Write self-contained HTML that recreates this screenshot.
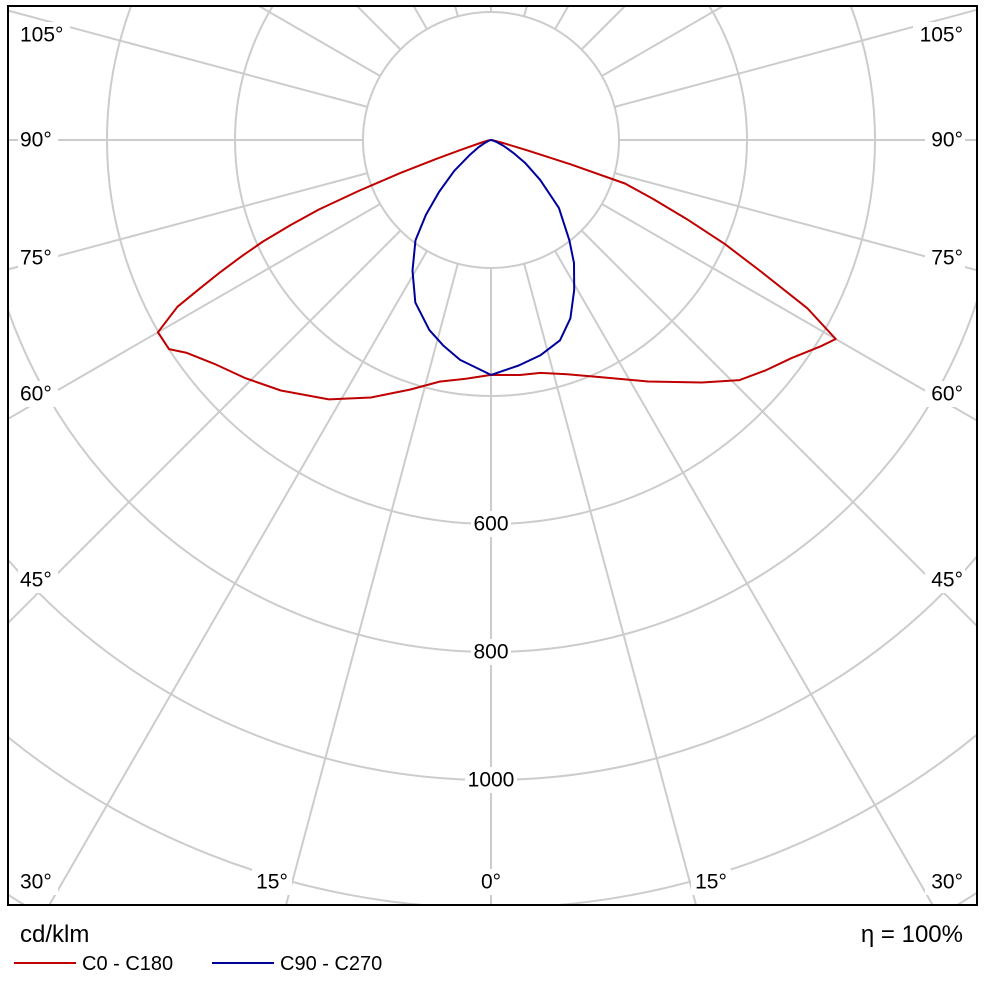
<!DOCTYPE html>
<html><head><meta charset="utf-8"><style>
html,body{margin:0;padding:0;background:#fff;width:984px;height:984px;overflow:hidden;}
body{font-family:"Liberation Sans",sans-serif;}
svg{display:block;}
</style></head><body>
<svg id="chart" width="984" height="984" viewBox="0 0 984 984" xmlns="http://www.w3.org/2000/svg">
<defs><clipPath id="pc"><rect x="8" y="6" width="969" height="899"/></clipPath></defs>
<rect x="0" y="0" width="984" height="984" fill="#fff"/>
<g id="grid" clip-path="url(#pc)"></g>
<g id="curves" clip-path="url(#pc)"></g>
<g id="labels"></g>
<rect x="8" y="6" width="969" height="899" fill="none" stroke="#000" stroke-width="2"/>
<text x="20" y="942" font-size="24" fill="#000">cd/klm</text>
<text x="963" y="942" font-size="24" text-anchor="end" fill="#000">η = 100%</text>
<g>
<line x1="14" y1="963" x2="76" y2="963" stroke="#c00000" stroke-width="2"/>
<text x="82" y="970" font-size="20" fill="#000">C0 - C180</text></g>
<g>
<line x1="212" y1="963" x2="274" y2="963" stroke="#00009a" stroke-width="2"/>
<text x="280" y="970" font-size="20" fill="#000">C90 - C270</text></g>
</svg>
<script>
const ringValues=[200,400,600,800,1000,1200,1400];
const ringLabels=["600","800","1000"];
const spokeAngles=[0,15,30,45,60,75,90,105,120,135,150,165,180];
const redRightAngles=[0,7,12,18,25,33,41,46,50,54,58,60,62,64,66,68,70,72,73,74,76,80,90];
const redRightValues=[367,370,372,385,409,450,502,540,560,580,608,622,560,470,400,330,270,220,130,60,20,5,0];
const redLeftAngles=[0,6,12,18,25,32,40,46,51,55,57,60,62,63,64,65,66,67,68,69,70,71,72,75,80,90];
const redLeftValues=[367,375,386,410,444,478,511,535,556,580,600,601,555,510,470,430,390,340,290,220,150,90,50,15,5,0];
const blueRightAngles=[0,7,13,19,24,29,34,38,45,51,56,60,65,70,80,90];
const blueRightValues=[367,355,345,331,305,268,232,199,150,99,65,40,22,10,2,0];
const blueLeftAngles=[0,8,13,18,25,31,37,41,45,50,55,60,65,75,90];
const blueLeftValues=[367,347,330,312,280,238,196,155,115,75,40,22,10,3,0];

const NS="http://www.w3.org/2000/svg";
const CX=491, CY=140, SCALE=0.64;
function rad(v){return v*SCALE;}
function px(side,a,v){const t=a*Math.PI/180;return [CX+side*rad(v)*Math.sin(t), CY+rad(v)*Math.cos(t)];}
const grid=document.getElementById('grid');
ringValues.forEach(v=>{
  const c=document.createElementNS(NS,'circle');
  
  
  c.setAttribute('cx',CX);c.setAttribute('cy',CY);c.setAttribute('r',rad(v));
  c.setAttribute('fill','none');c.setAttribute('stroke','#cccccc');c.setAttribute('stroke-width','2');
  grid.appendChild(c);
});
spokeAngles.forEach(a=>{
  [1,-1].forEach(s=>{
    if((a===0||a===180)&&s===-1)return;
    const p1=px(s,a,200),p2=px(s,a,2000);
    const l=document.createElementNS(NS,'line');
    
    
    l.setAttribute('x1',p1[0]);l.setAttribute('y1',p1[1]);l.setAttribute('x2',p2[0]);l.setAttribute('y2',p2[1]);
    l.setAttribute('stroke','#cccccc');l.setAttribute('stroke-width','2');
    grid.appendChild(l);
  });
});
function curve(la,lv,ra,rv,color,name){
  const pts=[];
  for(let i=la.length-1;i>=0;i--)pts.push(px(-1,la[i],lv[i]));
  for(let i=1;i<ra.length;i++)pts.push(px(1,ra[i],rv[i]));
  const p=document.createElementNS(NS,'polyline');
  
  
  p.setAttribute('points',pts.map(q=>q[0].toFixed(1)+','+q[1].toFixed(1)).join(' '));
  p.setAttribute('fill','none');p.setAttribute('stroke',color);p.setAttribute('stroke-width','2');
  p.setAttribute('stroke-linejoin','round');
  document.getElementById('curves').appendChild(p);
}
curve(redLeftAngles,redLeftValues,redRightAngles,redRightValues,'#c00000','curve-c0-c180');
curve(blueLeftAngles,blueLeftValues,blueRightAngles,blueRightValues,'#00009a','curve-c90-c270');
const labels=document.getElementById('labels');
function label(x,y,txt,anchor,name){
  const t=document.createElementNS(NS,'text');
  
  
  t.setAttribute('x',x);t.setAttribute('y',y);t.setAttribute('font-size','21');
  t.setAttribute('text-anchor',anchor);t.setAttribute('dominant-baseline','central');
  t.textContent=txt;
  const w=txt.length*12+4;
  const r=document.createElementNS(NS,'rect');
  
  
  const rx=anchor==='middle'?x-w/2:(anchor==='end'?x-w+2:x-2);
  r.setAttribute('x',rx);r.setAttribute('y',y-13);r.setAttribute('width',w);r.setAttribute('height',26);r.setAttribute('fill','#fff');
  labels.appendChild(r);labels.appendChild(t);
}
ringLabels.forEach(s=>{const v=+s;label(CX,CY+rad(v),s,'middle','ring-label-'+s);});
const sideLabelAngles=["105°","90°","75°","60°","45°"];
const sideLabelY=[35,140,258,394,580];
sideLabelAngles.forEach((s,i)=>{
  label(20,sideLabelY[i],s,'start','angle-label-left-'+i);
  label(963,sideLabelY[i],s,'end','angle-label-right-'+i);
});
label(20,882,"30°",'start','angle-label-bottom-left-30');
label(272,882,"15°",'middle','angle-label-bottom-left-15');
label(491,882,"0°",'middle','angle-label-bottom-0');
label(711,882,"15°",'middle','angle-label-bottom-right-15');
label(963,882,"30°",'end','angle-label-bottom-right-30');
</script>
</body></html>
